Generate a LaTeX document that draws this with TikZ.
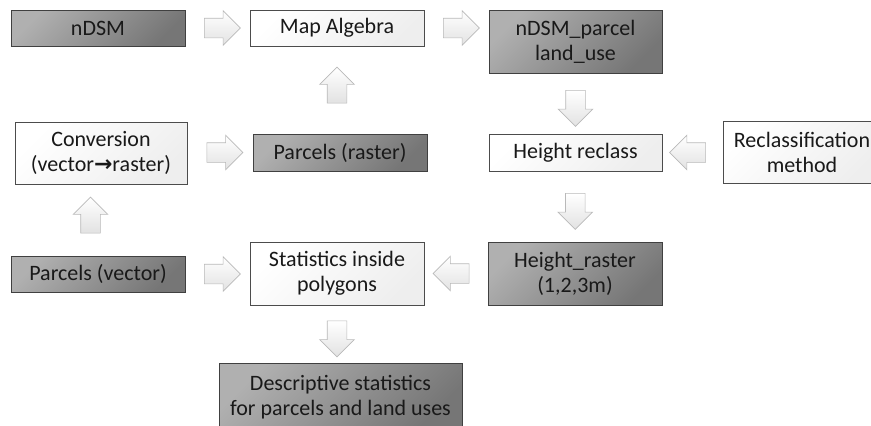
\documentclass[tikz,border=0pt]{standalone}
\usepackage{fontspec}
\setmainfont{Carlito}
\newfontfamily\symfont{DejaVu Sans}
\usetikzlibrary{shapes.arrows,calc}

\definecolor{darktop}{RGB}{176,176,176}
\definecolor{darkbot}{RGB}{118,118,118}
\definecolor{lighttop}{RGB}{255,255,255}
\definecolor{lightbot}{RGB}{238,238,238}
\definecolor{arrowfill}{RGB}{226,226,226}
\definecolor{arrowline}{RGB}{185,185,185}

\begin{document}
\begin{tikzpicture}[x=1pt,y=-1pt,font=\fontsize{22}{25}\selectfont,
                    every node/.style={inner sep=0pt,align=center}]

  \tikzstyle{darkbox}=[rectangle,draw=black!75,line width=0.8pt,text=black!90,
                       top color=darktop,bottom color=darkbot,shading angle=45]
  \tikzstyle{lightbox}=[rectangle,draw=black!70,line width=0.8pt,text=black!90,
                        top color=lighttop,bottom color=lightbot,shading angle=45]
  \tikzstyle{blockarrow}=[single arrow,draw=arrowline,line width=0.6pt,
                          top color=white,bottom color=arrowfill,
                          inner sep=9.5pt,minimum height=36pt,
                          single arrow head extend=7.5pt]

  \useasboundingbox (0,0) rectangle (871,426);
  \clip (0,0) rectangle (871,426);

  \node[darkbox,  minimum width=174pt,minimum height=36pt] (NDSM)  at (98,28)      {nDSM};
  \node[lightbox, minimum width=174pt,minimum height=36pt] (MAP)   at (337,28)     {Map Algebra};
  \node[darkbox,  minimum width=173pt,minimum height=63pt] (NPL)   at (575.5,41.5) {nDSM\_parcel \\ land\_use};

  \node[lightbox, minimum width=172pt,minimum height=62pt] (CONV)  at (101,153)    {Conversion \\ (vector{\symfont\bfseries →}raster)};
  \node[darkbox,  minimum width=174pt,minimum height=37pt] (PRAS)  at (340,152.5)  {Parcels (raster)};
  \node[lightbox, minimum width=173pt,minimum height=37pt] (HREC)  at (575.5,152.5){Height reclass};
  \node[lightbox, minimum width=158pt,minimum height=62pt] (RMETH) at (802,152)    {Reclassification \\ method};

  \node[darkbox,  minimum width=174pt,minimum height=36pt] (PVEC)  at (98,274)     {Parcels (vector)};
  \node[lightbox, minimum width=174pt,minimum height=63pt] (STAT)  at (337,273.5)  {Statistics inside \\ polygons};
  \node[darkbox,  minimum width=174pt,minimum height=63pt] (HRAS)  at (575,273.5)  {Height\_raster \\ (1,2,3m)};

  \node[darkbox,  minimum width=243pt,minimum height=68pt] (DESC)  at (340.5,397)  {Descriptive statistics \\ for parcels and land uses};

  % block arrows between the boxes
  \node[blockarrow]                        (A1)  at ($(NDSM.east)!0.5!(MAP.west)$)   {};
  \node[blockarrow]                        (A2)  at ($(MAP.east)!0.5!(NPL.west|-MAP.east)$) {};
  \node[blockarrow,shape border rotate=90] (A3)  at ($(MAP.south)!0.5!(PRAS.north-|MAP.south)$) {};
  \node[blockarrow,shape border rotate=270](A4)  at ($(NPL.south)!0.5!(HREC.north)$) {};
  \node[blockarrow,shape border rotate=180](A5)  at ($(HREC.east)!0.5!(RMETH.west|-HREC.east)$) {};
  \node[blockarrow,shape border rotate=270](A6)  at ($(HREC.south)!0.5!(HRAS.north)$) {};
  \node[blockarrow]                        (A7)  at ($(CONV.east|-PRAS.west)!0.5!(PRAS.west)$) {};
  \node[blockarrow,shape border rotate=90] (A8)  at ($(PVEC.north-|90.5,0)!0.5!(CONV.south-|90.5,0)$) {};
  \node[blockarrow]                        (A9)  at ($(PVEC.east)!0.5!(STAT.west|-PVEC.east)$) {};
  \node[blockarrow,shape border rotate=180](A10) at ($(STAT.east)!0.5!(HRAS.west)$) {};
  \node[blockarrow,shape border rotate=270](A11) at ($(STAT.south)!0.5!(DESC.north-|STAT.south)$) {};

\end{tikzpicture}
\end{document}
